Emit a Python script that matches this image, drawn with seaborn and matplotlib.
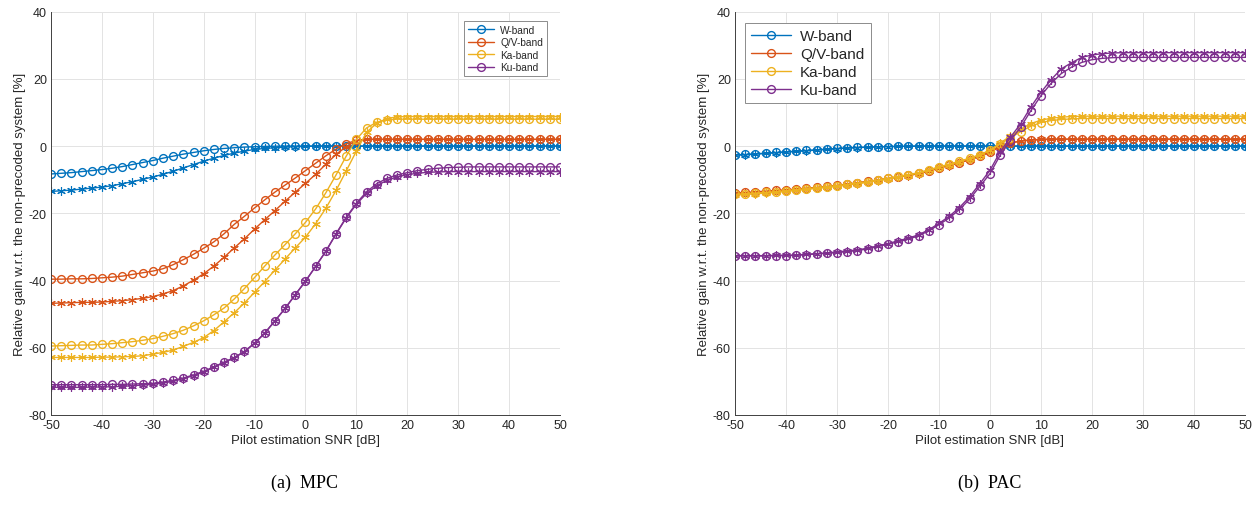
import matplotlib
matplotlib.use("Agg")
import matplotlib.pyplot as plt
import seaborn as sns
import pandas as pd

# ---------------- data ----------------
snr_db = list(range(-50, 51, 2))
bands = ["W-band", "Q/V-band", "Ka-band", "Ku-band"]

# (a) MPC : circle series and asterisk series
mpc_w_circ = [-8.3, -8.1, -7.9, -7.6, -7.3, -7.0, -6.6, -6.1, -5.5, -4.9, -4.3, -3.6, -3.0, -2.4, -1.9, -1.4,
              -1.0, -0.7, -0.5, -0.3, -0.2, -0.1, -0.05] + [0.0] * 28
mpc_w_ast = [-13.5, -13.3, -13.1, -12.8, -12.5, -12.2, -11.8, -11.2, -10.6, -9.9, -9.2, -8.4, -7.5, -6.5, -5.5,
             -4.5, -3.6, -2.8, -2.1, -1.5, -1.0, -0.7, -0.5, -0.3, -0.2, -0.1] + [0.0] * 25
mpc_qv_circ = [-39.6, -39.6, -39.5, -39.5, -39.4, -39.2, -39.0, -38.7, -38.2, -37.7, -37.2, -36.5, -35.3, -33.8,
               -32.2, -30.4, -28.5, -26.1, -23.3, -20.9, -18.4, -16.0, -13.7, -11.6, -9.5, -7.3, -5.1, -2.9,
               -0.9, 0.7, 1.7, 2.0] + [2.0] * 19
mpc_qv_ast = [-46.8, -46.7, -46.6, -46.5, -46.5, -46.4, -46.2, -46.0, -45.7, -45.3, -44.8, -44.0, -43.0, -41.6,
              -39.9, -38.0, -35.7, -33.1, -30.3, -27.6, -24.7, -21.9, -19.2, -16.4, -13.7, -11.1, -8.4, -5.4,
              -2.5, -0.2, 1.6, 2.0] + [2.0] * 19
mpc_ka_circ = [-59.5, -59.4, -59.3, -59.2, -59.2, -59.0, -58.8, -58.5, -58.2, -57.8, -57.3, -56.6, -55.8, -54.8,
               -53.5, -52.0, -50.2, -48.2, -45.5, -42.4, -39.1, -35.7, -32.4, -29.3, -26.1, -22.7, -18.7, -13.9,
               -8.6, -3.0, 2.0, 5.4, 7.1, 7.8, 8.0] + [8.0] * 16
mpc_ka_ast = [-62.9, -62.9, -62.9, -62.9, -62.9, -62.8, -62.8, -62.7, -62.6, -62.4, -61.9, -61.4, -60.7, -59.6,
              -58.4, -57.0, -54.9, -52.3, -49.6, -46.7, -43.5, -40.3, -36.9, -33.6, -30.3, -27.1, -23.1, -18.5,
              -13.2, -7.4, -1.5, 4.1, 6.8, 8.2, 8.7] + [8.8] * 16
mpc_ku_circ = [-71.0, -71.0, -71.0, -71.0, -71.0, -71.0, -70.9, -70.9, -70.8, -70.7, -70.6, -70.2, -69.7, -69.0,
               -68.1, -67.0, -65.7, -64.3, -62.9, -61.1, -58.6, -55.6, -52.0, -48.3, -44.2, -40.2, -35.8, -31.3,
               -26.1, -21.2, -17.0, -13.6, -11.2, -9.6, -8.6, -7.9, -7.3, -6.9, -6.6, -6.4, -6.3] + [-6.2] * 10
mpc_ku_ast = [-71.8, -71.8, -71.8, -71.8, -71.7, -71.7, -71.6, -71.5, -71.3, -71.1, -70.9, -70.5, -70.0, -69.2,
              -68.3, -67.2, -65.8, -64.4, -63.0, -61.2, -58.7, -55.7, -52.0, -48.3, -44.2, -40.2, -35.8, -31.3,
              -26.2, -21.4, -17.3, -14.1, -11.8, -10.2, -9.2, -8.5, -8.1, -7.8, -7.7, -7.6, -7.6] + [-7.6] * 10

# (b) PAC
pac_w_circ = [-2.6, -2.5, -2.3, -2.1, -1.9, -1.7, -1.5, -1.3, -1.1, -0.9, -0.7, -0.55, -0.4, -0.3, -0.2, -0.15,
              -0.1, -0.05] + [0.0] * 33
pac_w_ast = [-2.7, -2.6, -2.4, -2.2, -2.0, -1.8, -1.6, -1.4, -1.2, -1.0, -0.8, -0.6, -0.45, -0.35, -0.25, -0.15,
             -0.1, -0.05] + [0.0] * 33
pac_qv_circ = [-13.9, -13.8, -13.6, -13.4, -13.2, -13.0, -12.8, -12.5, -12.3, -12.0, -11.7, -11.3, -10.9, -10.5,
               -10.1, -9.6, -9.1, -8.7, -8.1, -7.4, -6.5, -5.7, -4.9, -4.0, -3.0, -1.7, -0.1, 0.9, 1.5, 1.8,
               1.9] + [2.0] * 20
pac_qv_ast = [-14.1, -14.0, -13.8, -13.6, -13.4, -13.2, -12.9, -12.7, -12.4, -12.1, -11.8, -11.4, -11.0, -10.6,
              -10.2, -9.7, -9.2, -8.8, -8.2, -7.5, -6.6, -5.8, -5.0, -4.1, -3.1, -1.8, -0.2, 0.9, 1.5, 1.8,
              2.0] + [2.1] * 20
pac_ka_circ = [-14.4, -14.2, -14.0, -13.8, -13.6, -13.3, -13.0, -12.7, -12.4, -12.1, -11.8, -11.4, -11.0, -10.6,
               -10.1, -9.6, -9.0, -8.5, -7.9, -7.1, -6.2, -5.4, -4.5, -3.6, -2.6, -1.3, 0.6, 2.5, 4.3, 5.9, 7.0,
               7.6, 7.9, 8.1] + [8.2] * 17
pac_ka_ast = [-14.6, -14.4, -14.2, -14.0, -13.8, -13.5, -13.2, -12.9, -12.6, -12.3, -12.0, -11.6, -11.2, -10.8,
              -10.3, -9.8, -9.2, -8.6, -8.0, -7.2, -6.3, -5.5, -4.6, -3.7, -2.6, -1.2, 0.9, 3.0, 5.0, 6.7, 7.7,
              8.3, 8.6, 8.8] + [8.9] * 17
pac_ku_circ = [-32.7, -32.7, -32.7, -32.7, -32.6, -32.6, -32.5, -32.3, -32.1, -31.9, -31.7, -31.4, -31.1, -30.6,
               -29.9, -29.2, -28.5, -27.7, -26.7, -25.2, -23.4, -21.4, -18.9, -15.8, -12.0, -8.2, -2.7, 1.6, 5.6,
               10.5, 15.0, 18.7, 21.6, 23.5, 24.9, 25.7, 26.1, 26.3] + [26.4] * 13
pac_ku_ast = [-32.6, -32.6, -32.6, -32.6, -32.5, -32.5, -32.4, -32.2, -32.0, -31.8, -31.5, -31.2, -30.9, -30.4,
              -29.7, -29.0, -28.2, -27.4, -26.4, -24.9, -23.0, -20.9, -18.3, -15.1, -11.2, -7.2, -1.7, 2.6, 6.6,
              11.6, 16.0, 19.8, 23.0, 24.8, 26.4, 27.1, 27.5, 27.7] + [27.8] * 13

x_ticks = [-50, -40, -30, -20, -10, 0, 10, 20, 30, 40, 50]
y_ticks = [-80, -60, -40, -20, 0, 20, 40]
x_label = "Pilot estimation SNR [dB]"
y_label = "Relative gain w.r.t. the non-precoded system [%]"
captions = ["(a)  MPC", "(b)  PAC"]

panels = [
    {"circ": [mpc_w_circ, mpc_qv_circ, mpc_ka_circ, mpc_ku_circ],
     "ast": [mpc_w_ast, mpc_qv_ast, mpc_ka_ast, mpc_ku_ast]},
    {"circ": [pac_w_circ, pac_qv_circ, pac_ka_circ, pac_ku_circ],
     "ast": [pac_w_ast, pac_qv_ast, pac_ka_ast, pac_ku_ast]},
]

# ---------------- style ----------------
colors = ["#0072BD", "#D95319", "#EDB120", "#7E2F8E"]
sns.set_style("white")
plt.rcParams["font.family"] = ["Liberation Sans", "DejaVu Sans"]
plt.rcParams["axes.unicode_minus"] = False

fig = plt.figure(figsize=(12.53, 5.06), dpi=100)
axes_pos = [[0.0407, 0.178, 0.4062, 0.797], [0.5866, 0.178, 0.4070, 0.797]]
legend_cfg = [dict(loc="upper right", fontsize=7.3, bbox_to_anchor=(0.985, 0.99)),
              dict(loc="upper left", fontsize=11, bbox_to_anchor=(0.005, 0.99))]
caption_x = [0.243, 0.790]

for p, panel in enumerate(panels):
    ax = fig.add_axes(axes_pos[p])
    handles = []
    for i, band in enumerate(bands):
        df_c = pd.DataFrame({"snr": snr_db, "gain": panel["circ"][i]})
        df_a = pd.DataFrame({"snr": snr_db, "gain": panel["ast"][i]})
        sns.lineplot(data=df_a, x="snr", y="gain", ax=ax, color=colors[i], linewidth=1.0,
                     marker=(6, 2, 0), markersize=6.2, markeredgecolor=colors[i],
                     markeredgewidth=0.8, errorbar=None, legend=False)
        sns.lineplot(data=df_c, x="snr", y="gain", ax=ax, color=colors[i], linewidth=1.0,
                     marker="o", markersize=5.6, markerfacecolor="none", markeredgecolor=colors[i],
                     markeredgewidth=1.0, errorbar=None, legend=False)
        handles.append(ax.lines[-1])
    ax.set_xlim(-50, 50)
    ax.set_ylim(-80, 40)
    ax.set_xticks(x_ticks)
    ax.set_yticks(y_ticks)
    ax.set_xticklabels([str(t) for t in x_ticks])
    ax.set_yticklabels([str(t) for t in y_ticks])
    ax.grid(True, color="#e3e3e3", linewidth=0.7)
    ax.set_axisbelow(True)
    for s in ["top", "right"]:
        ax.spines[s].set_visible(False)
    for s in ["left", "bottom"]:
        ax.spines[s].set_color("#404040")
        ax.spines[s].set_linewidth(0.7)
    ax.tick_params(direction="in", length=4, width=0.6, color="#404040",
                   labelsize=9, labelcolor="#262626", pad=3)
    ax.set_xlabel(x_label, fontsize=9.5, color="#262626", labelpad=2)
    ax.set_ylabel(y_label, fontsize=9.5, color="#262626", labelpad=2)
    leg = ax.legend(handles, bands, frameon=True, fancybox=False, framealpha=1,
                    edgecolor="#8c8c8c", handlelength=2.6, borderpad=0.4,
                    labelspacing=0.25, handletextpad=0.6, **legend_cfg[p])
    leg.get_frame().set_linewidth(0.7)
    fig.text(caption_x[p], 0.045, captions[p], ha="center", va="center",
             fontsize=13, family=["Liberation Serif", "DejaVu Serif"], color="black")

fig.savefig("out.png", dpi=100, facecolor="white")
